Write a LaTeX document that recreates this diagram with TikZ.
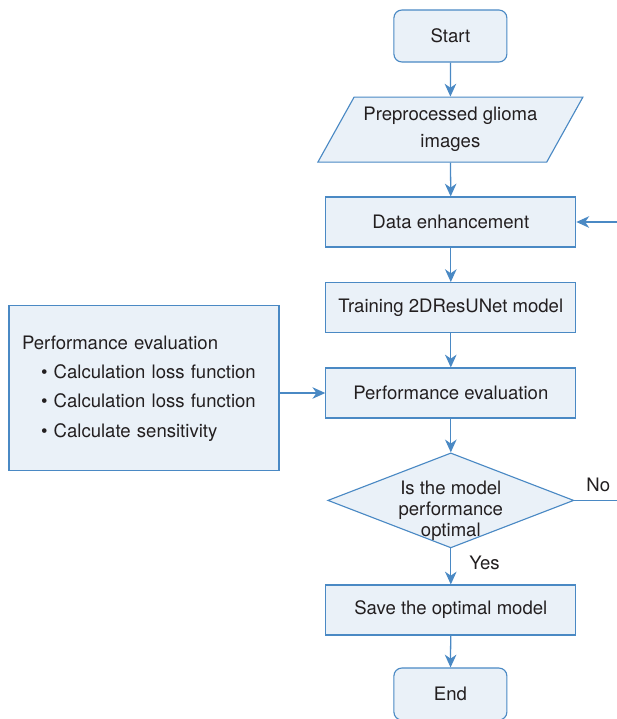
\documentclass[tikz,border=0pt]{standalone}
\usepackage{fontspec}
\setmainfont{TeX Gyre Heros}
\usepackage{tikz}
\usetikzlibrary{arrows.meta,positioning,shapes.geometric}
\definecolor{flowfill}{RGB}{234,241,248}
\definecolor{flowline}{RGB}{74,137,196}
\definecolor{flowtext}{RGB}{35,31,32}

\begin{document}
\begin{tikzpicture}[every node/.style={font=\fontsize{13.2}{15}\selectfont,text=flowtext},
  >={Stealth[length=3.2mm,width=2.9mm,inset=1mm]},
  term/.style={rectangle,rounded corners=0.2cm,draw=flowline,fill=flowfill,line width=0.8pt,
    minimum width=2.825cm,minimum height=1.3cm},
  procbox/.style={rectangle,draw=flowline,fill=flowfill,line width=0.8pt,
    minimum width=6.25cm,minimum height=1.25cm},
  iobox/.style={trapezium,trapezium left angle=56,trapezium right angle=124,
    trapezium stretches body=true,draw=flowline,fill=flowfill,line width=0.8pt,
    minimum width=6.625cm,minimum height=1.625cm,align=center},
  decide/.style={diamond,draw=flowline,fill=flowfill,line width=0.8pt,inner sep=0pt,
    minimum width=6.15cm,minimum height=2.375cm},
  flow/.style={->,draw=flowline,line width=0.9pt}]
\useasboundingbox (0,0) rectangle (15.425,-17.975);
\node[term] (start) at (11.26,-0.9) {Start};
\node[iobox,font=\fontsize{13.2}{19}\selectfont] (images) at (11.26,-3.24) {Preprocessed glioma\\images};
\node[procbox] (enhance) at (11.27,-5.55) {Data enhancement};
\node[procbox] (train) at (11.27,-7.69) {Training 2DResUNet model};
\node[procbox] (perf) at (11.27,-9.825) {Performance evaluation};
\node[decide] (optimal) at (11.27,-12.51) {};
\node[align=center,yshift=-0.25cm] (optq) at (optimal) {Is the model\\performance\\optimal};
\node[procbox] (save) at (11.27,-15.25) {Save the optimal model};
\node[term] (end) at (11.26,-17.35) {End};
\node[rectangle,draw=flowline,fill=flowfill,line width=0.8pt,align=left,
  text width=6.1cm,inner xsep=0.325cm,minimum height=4.125cm,
  font=\fontsize{13.2}{20.8}\selectfont] (evalbox) at (3.6,-9.71)
  {Performance evaluation\\
   \hspace*{0.475cm}\textbullet\ Calculation loss function\\
   \hspace*{0.475cm}\textbullet\ Calculation loss function\\
   \hspace*{0.475cm}\textbullet\ Calculate sensitivity};
\coordinate (noend) at (15.425,0 |- optimal.east);
\coordinate (backin) at (15.425,0 |- enhance.east);
% main column
\draw[flow] (start) -- (images);
\draw[flow] (images) -- (enhance);
\draw[flow] (enhance) -- (train);
\draw[flow] (train) -- (perf);
\draw[flow] (perf) -- (optimal);
\draw[flow] (optimal) -- node[pos=0.4,right=0.45cm,inner sep=0pt] (yes) {Yes} (save);
\draw[flow] (save) -- (end);
% side branches
\draw[flow] (evalbox.east |- perf.west) -- (perf.west);
\draw[draw=flowline,line width=0.9pt] (optimal.east) -- node[pos=0.56,above=0.2cm,inner sep=0pt] (no) {No} (noend);
\draw[flow] (backin) -- (enhance.east);
\end{tikzpicture}
\end{document}
